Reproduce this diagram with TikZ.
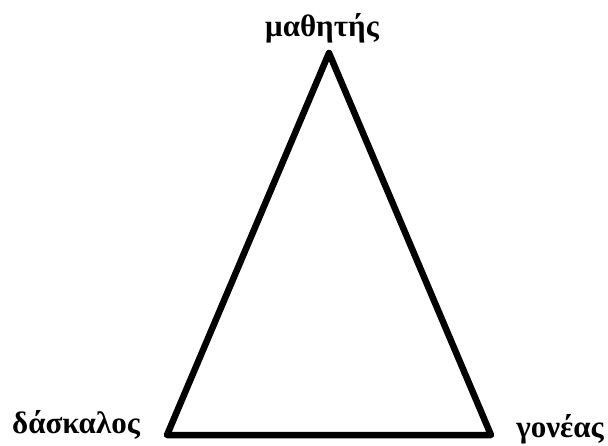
\documentclass[tikz,border=0pt]{standalone}
\usepackage{fontspec}
\setmainfont{Liberation Serif}
\begin{document}
\begin{tikzpicture}[x=1pt,y=-1pt,
  lbl/.style={font=\fontsize{31}{36}\selectfont\bfseries, inner sep=0pt, anchor=base},
  edge/.style={line width=6.5pt, line join=round}]
\useasboundingbox (0,0) rectangle (608,445);
\coordinate (top) at (329,53);
\coordinate (bl) at (167,435);
\coordinate (br) at (491,435);
\draw[edge] (top) -- (bl) -- (br) -- cycle;
\node[lbl] (m) at (322,36) {μαθητής};
\node[lbl] (d) at (76,433) {δάσκαλος};
\node[lbl] (g) at (560,437) {γονέας};
\end{tikzpicture}
\end{document}
